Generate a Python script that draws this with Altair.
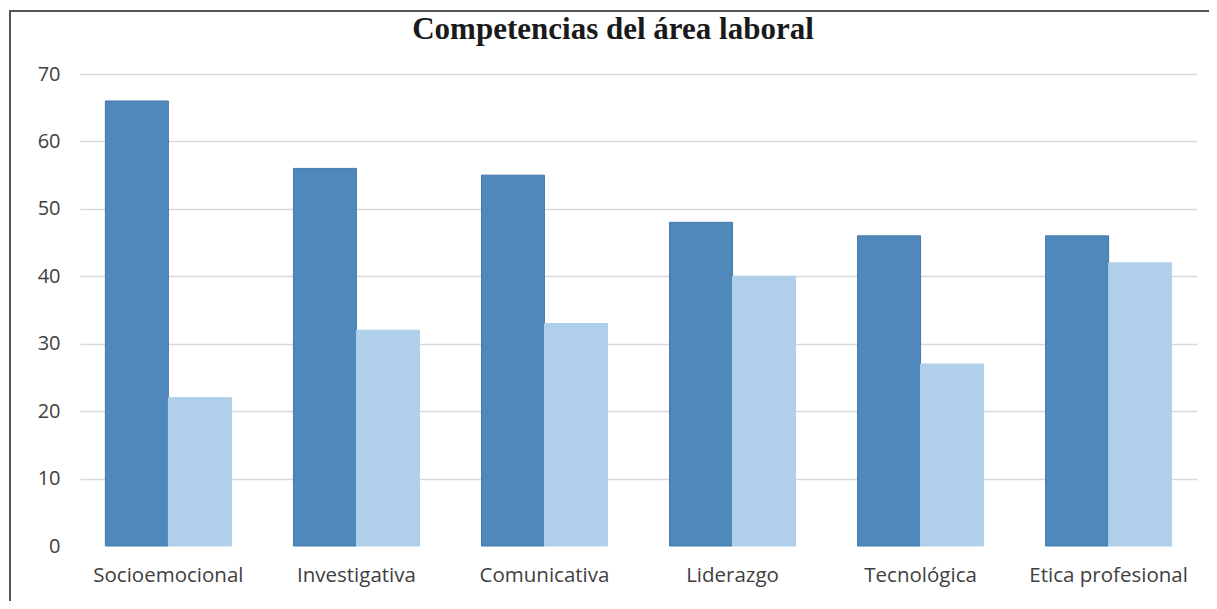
import altair as alt
import pandas as pd

categories = ["Socioemocional", "Investigativa", "Comunicativa", "Liderazgo", "Tecnológica", "Etica profesional"]
serie_1 = [66, 56, 55, 48, 46, 46]
serie_2 = [22, 32, 33, 40, 27, 42]
series_names = ["Serie 1", "Serie 2"]
y_ticks = [0, 10, 20, 30, 40, 50, 60, 70]
title_text = ["Competencias del área laboral"]

rows = []
for c, a, b in zip(categories, serie_1, serie_2):
    rows.append({"cat": c, "serie": series_names[0], "valor": a})
    rows.append({"cat": c, "serie": series_names[1], "valor": b})
df = pd.DataFrame(rows)

W, H = 1117, 472

bars = alt.Chart(df).mark_bar(strokeWidth=1).encode(
    x=alt.X("cat:N", sort=categories, title=None,
            scale=alt.Scale(paddingInner=0.33, paddingOuter=0.135),
            axis=alt.Axis(labelAngle=0, domain=False, ticks=False, grid=False, labelPadding=19,
                          labelFont="Open Sans", labelFontSize=20.5, labelColor="#404040")),
    xOffset=alt.XOffset("serie:N", sort=series_names),
    y=alt.Y("valor:Q", title=None,
            scale=alt.Scale(domain=[0, 70], nice=False),
            axis=alt.Axis(values=y_ticks, domain=False, ticks=False, labelPadding=20,
                          labelFont="Open Sans", labelFontSize=20, labelColor="#404040",
                          gridColor=alt.condition("datum.value == 0", alt.value("transparent"), alt.value("#d9d9d9")),
                          gridWidth=1.5)),
    color=alt.Color("serie:N", sort=series_names, legend=None,
                    scale=alt.Scale(domain=series_names, range=["#4f88bb", "#b0cfea"])),
    stroke=alt.Stroke("serie:N", sort=series_names, legend=None,
                      scale=alt.Scale(domain=series_names, range=["#4579aa", "#b0cfea"])),
)

title = alt.Chart(pd.DataFrame({"t": title_text})).mark_text(
    font="Liberation Serif", fontSize=31, fontWeight="bold", color="#1a1a1a",
    align="center", baseline="middle").encode(
    text="t:N", x=alt.value(533), y=alt.value(-44))

border_left = alt.Chart(pd.DataFrame({"k": [0]})).mark_rule(color="#555555", strokeWidth=2).encode(
    x=alt.value(-70), y=alt.value(-63), y2=alt.value(H + 70))
border_top = alt.Chart(pd.DataFrame({"k": [0]})).mark_rule(color="#555555", strokeWidth=2).encode(
    x=alt.value(-71), x2=alt.value(W + 40), y=alt.value(-63))

chart = alt.layer(bars, title, border_left, border_top).properties(
    width=W, height=H,
    background="white",
    autosize=alt.AutoSizeParams(type="none"),
    padding={"left": 72, "top": 66, "right": 12, "bottom": 55},
).configure_view(strokeWidth=0, stroke=None)

chart.save("out.html", embed_options={"renderer": "svg", "actions": False})
